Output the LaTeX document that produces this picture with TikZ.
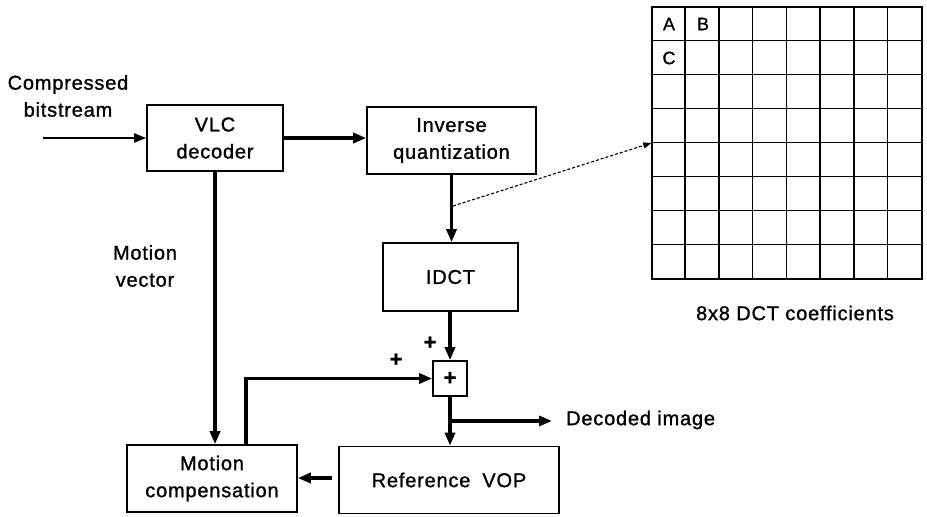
\documentclass[tikz,border=0pt]{standalone}
\usepackage{fontspec}
\setmainfont{Liberation Sans}[LetterSpace=4,FakeBold=1.2]
\usetikzlibrary{arrows.meta,calc}
\begin{document}
\begin{tikzpicture}[x=1pt,y=-1pt,
  box/.style={draw,line width=1.6pt,rectangle,inner sep=0pt,align=center,font=\fontsize{20}{27}\selectfont},
  lbl/.style={align=center,inner sep=0pt,font=\fontsize{20}{27}\selectfont},
  flow/.style={line width=3.2pt,-{Triangle[length=13pt,width=10pt]}},
  thinflow/.style={line width=1.9pt,-{Triangle[length=12pt,width=9pt]}},
  gline/.style={line width=1.5pt},
  cell/.style={inner sep=0pt,font=\fontsize{18}{18}\selectfont},
  plus/.style={inner sep=0pt,font=\fontsize{22}{22}\selectfont\bfseries}]
\useasboundingbox (0,0) rectangle (927,517);
% blocks
\node[box,minimum width=136pt,minimum height=66pt] (vlc) at (215,138) {VLC\\decoder};
\node[box,minimum width=169pt,minimum height=67pt] (iq) at (451.5,140.5) {Inverse\\quantization};
\node[box,minimum width=135pt,minimum height=68pt] (idct) at (450.5,277) {IDCT};
\node[box,minimum width=34pt,minimum height=35pt,font=\fontsize{22}{22}\selectfont\bfseries] (sum) at (450,378.5) {+};
\node[box,minimum width=170pt,minimum height=67pt] (mc) at (212,478.5) {Motion\\compensation};
\node[box,minimum width=220pt,minimum height=67pt] (vop) at (449,480) {Reference\hspace{0.6em}VOP};
% grid
\node[draw,gline,inner sep=0pt,minimum width=270pt,minimum height=272pt] (grid) at (787,143) {};
\foreach \i in {1,...,7}{
  \draw[gline] ($(grid.north west)+(\i*33.75,0)$) -- ($(grid.south west)+(\i*33.75,0)$);
  \draw[gline] ($(grid.north west)+(0,\i*34)$) -- ($(grid.north east)+(0,\i*34)$);
}
\node[cell] (ca) at (669,24) {A};
\node[cell] (cb) at (703,24) {B};
\node[cell] (cc) at (669,58) {C};
% coordinates
\coordinate (in) at (43,138);
\coordinate (tap) at (453,206);
\coordinate (br) at (450,421);
\coordinate (dec) at (552,421);
\coordinate (up) at (246,445);
% connectors
\draw[thinflow] (in) -- (vlc.west);
\draw[flow] (vlc.east) -- (vlc.east -| iq.west);
\draw[flow] (iq.south) -- (iq.south |- idct.north);
\draw[flow] (idct.south -| sum.north) -- (sum.north);
\draw[flow] (vlc.south) -- (vlc.south |- mc.north);
\draw[flow] (up) |- (sum.west);
\draw[flow] (sum.south) -- (sum.south |- vop.north);
\draw[flow] (br) -- (dec);
\draw[flow,shorten <=6pt] (vop.west |- 0,478) -- (mc.east |- 0,478);
\draw[line width=1.1pt,dash pattern=on 3pt off 2pt,-{Triangle[length=8pt,width=6pt]}] (tap) -- (grid.west);
% labels
\node[lbl] (lcomp) at (68,96) {Compressed\\bitstream};
\node[lbl] (lmv) at (145,266) {Motion\\vector};
\node[plus] (p1) at (430,343) {+};
\node[plus] (p2) at (396,360) {+};
\node[lbl,anchor=west] (ldec) at (566,420) {Decoded image};
\node[lbl] (ldct) at (795,313) {8x8 DCT coefficients};
\end{tikzpicture}
\end{document}
